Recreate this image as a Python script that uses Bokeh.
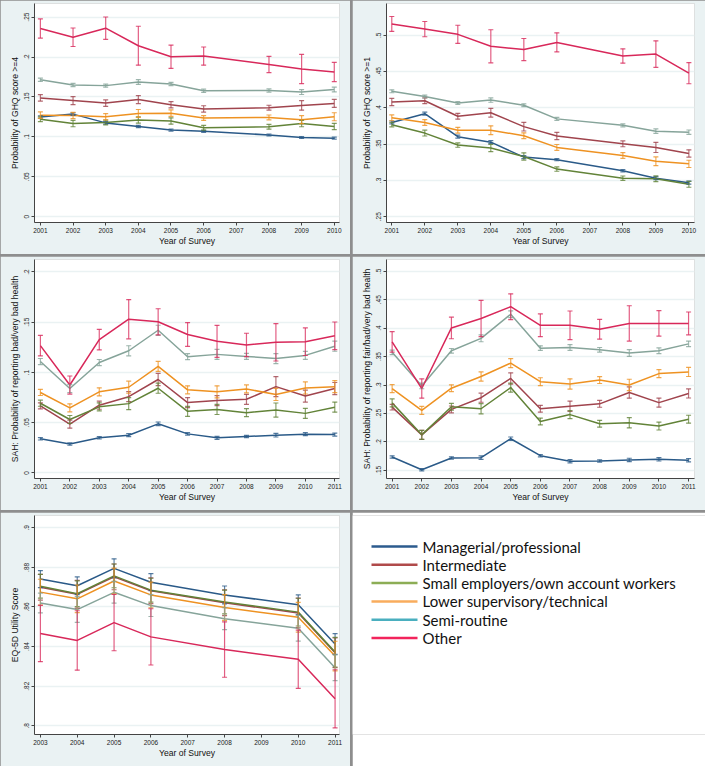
from bokeh.plotting import figure
from bokeh.models import Range1d, FixedTicker, Whisker, TeeHead, ColumnDataSource
from bokeh.core.properties import value
from bokeh.layouts import row, column
from bokeh.embed import file_html
from bokeh.resources import INLINE

# ---------------- data ----------------
GROUPS = ["Managerial/professional", "Intermediate", "Small employers/own account workers",
          "Lower supervisory/technical", "Semi-routine", "Other"]

# Panel 1: GHQ >= 4
ghq4_years = [2001, 2002, 2003, 2004, 2005, 2006, 2008, 2009, 2010]
ghq4_man = [0.1248, 0.1285, 0.1175, 0.1130, 0.1085, 0.1069, 0.1024, 0.0992, 0.0984]
ghq4_int = [0.1488, 0.1455, 0.1423, 0.1467, 0.1402, 0.1350, 0.1366, 0.1394, 0.1419]
ghq4_sml = [0.1220, 0.1167, 0.1179, 0.1211, 0.1199, 0.1114, 0.1126, 0.1167, 0.1130]
ghq4_low = [0.1272, 0.1268, 0.1252, 0.1293, 0.1297, 0.1236, 0.1244, 0.1215, 0.1252]
ghq4_semi = [0.1715, 0.1650, 0.1642, 0.1687, 0.1663, 0.1577, 0.1581, 0.1561, 0.1593]
ghq4_oth = [0.2358, 0.2248, 0.2362, 0.2142, 0.2004, 0.2012, 0.1907, 0.1850, 0.1813]
ghq4_man_ci = [0.0015, 0.0015, 0.0015, 0.0015, 0.0012, 0.0012, 0.0012, 0.0012, 0.0012]
ghq4_int_ci = [0.004, 0.005, 0.004, 0.005, 0.004, 0.004, 0.003, 0.006, 0.005]
ghq4_sml_ci = [0.003, 0.004, 0.003, 0.004, 0.004, 0.003, 0.003, 0.004, 0.004]
ghq4_low_ci = [0.004, 0.004, 0.004, 0.005, 0.004, 0.003, 0.003, 0.005, 0.005]
ghq4_semi_ci = [0.002, 0.002, 0.002, 0.003, 0.002, 0.002, 0.002, 0.003, 0.003]
ghq4_oth_ci = [0.012, 0.0116, 0.014, 0.0244, 0.0146, 0.0114, 0.0102, 0.0183, 0.012]
ghq4_yticks = [0, 0.05, 0.1, 0.15, 0.2, 0.25]
ghq4_ylabels = ["0", ".05", ".1", ".15", ".2", ".25"]

# Panel 2: GHQ >= 1
ghq1_years = [2001, 2002, 2003, 2004, 2005, 2006, 2008, 2009, 2010]
ghq1_man = [0.3799, 0.3920, 0.3603, 0.3527, 0.3321, 0.3286, 0.3134, 0.3031, 0.2969]
ghq1_int = [0.4080, 0.4098, 0.3884, 0.3933, 0.3741, 0.3612, 0.3504, 0.3455, 0.3371]
ghq1_sml = [0.3768, 0.3652, 0.3487, 0.3446, 0.3330, 0.3156, 0.3031, 0.3022, 0.2946]
ghq1_low = [0.3862, 0.3799, 0.3692, 0.3692, 0.3616, 0.3455, 0.3344, 0.3263, 0.3228]
ghq1_semi = [0.4228, 0.4156, 0.4067, 0.4107, 0.4036, 0.3848, 0.3759, 0.3679, 0.3665]
ghq1_oth = [0.5156, 0.5085, 0.5013, 0.4848, 0.4804, 0.4902, 0.4714, 0.4741, 0.4478]
ghq1_man_ci = [0.002, 0.002, 0.002, 0.002, 0.002, 0.0015, 0.0015, 0.002, 0.002]
ghq1_int_ci = [0.005, 0.004, 0.004, 0.006, 0.006, 0.005, 0.004, 0.007, 0.005]
ghq1_sml_ci = [0.003, 0.004, 0.003, 0.005, 0.005, 0.003, 0.003, 0.004, 0.004]
ghq1_low_ci = [0.004, 0.004, 0.004, 0.006, 0.004, 0.004, 0.004, 0.006, 0.005]
ghq1_semi_ci = [0.002, 0.002, 0.002, 0.003, 0.002, 0.002, 0.002, 0.003, 0.003]
ghq1_oth_ci = [0.0103, 0.0105, 0.0125, 0.0228, 0.0152, 0.0132, 0.0099, 0.0183, 0.0146]
ghq1_yticks = [0.25, 0.3, 0.35, 0.4, 0.45, 0.5]
ghq1_ylabels = [".25", ".3", ".35", ".4", ".45", ".5"]

# Panel 3: SAH bad / very bad
sahb_years = [2001, 2002, 2003, 2004, 2005, 2006, 2007, 2008, 2009, 2010, 2011]
sahb_man = [0.0340, 0.0288, 0.0350, 0.0376, 0.0489, 0.0389, 0.0350, 0.0363, 0.0376, 0.0386, 0.0382]
sahb_int = [0.0668, 0.0486, 0.0674, 0.0759, 0.0930, 0.0700, 0.0720, 0.0733, 0.0859, 0.0765, 0.0840]
sahb_sml = [0.0694, 0.0532, 0.0658, 0.0690, 0.0843, 0.0613, 0.0632, 0.0600, 0.0626, 0.0593, 0.0655]
sahb_low = [0.0801, 0.0648, 0.0807, 0.0853, 0.1060, 0.0827, 0.0807, 0.0836, 0.0781, 0.0846, 0.0859]
sahb_semi = [0.1109, 0.0840, 0.1099, 0.1216, 0.1420, 0.1157, 0.1180, 0.1160, 0.1138, 0.1170, 0.1261]
sahb_oth = [0.1267, 0.0875, 0.1326, 0.1530, 0.1504, 0.1378, 0.1310, 0.1274, 0.1300, 0.1306, 0.1365]
sahb_man_ci = [0.0012, 0.0012, 0.0012, 0.0015, 0.0018, 0.0012, 0.0015, 0.0012, 0.0018, 0.0015, 0.0015]
sahb_int_ci = [0.003, 0.004, 0.004, 0.005, 0.006, 0.005, 0.005, 0.005, 0.010, 0.006, 0.006]
sahb_sml_ci = [0.003, 0.004, 0.004, 0.006, 0.005, 0.005, 0.005, 0.004, 0.007, 0.005, 0.005]
sahb_low_ci = [0.003, 0.004, 0.004, 0.006, 0.005, 0.004, 0.006, 0.004, 0.006, 0.006, 0.006]
sahb_semi_ci = [0.003, 0.004, 0.003, 0.005, 0.005, 0.003, 0.005, 0.003, 0.005, 0.004, 0.005]
sahb_oth_ci = [0.0102, 0.009, 0.0102, 0.0195, 0.013, 0.0118, 0.0159, 0.0116, 0.0186, 0.0137, 0.0137]
sahb_yticks = [0, 0.05, 0.1, 0.15, 0.2]
sahb_ylabels = ["0", ".05", ".1", ".15", ".2"]

# Panel 4: SAH fair / bad / very bad
sahf_years = [2001, 2002, 2003, 2004, 2005, 2006, 2007, 2008, 2009, 2010, 2011]
sahf_man = [0.1735, 0.1511, 0.1718, 0.1723, 0.2056, 0.1758, 0.1660, 0.1666, 0.1683, 0.1695, 0.1678]
sahf_int = [0.2611, 0.2124, 0.2571, 0.2777, 0.3115, 0.2583, 0.2628, 0.2669, 0.2869, 0.2691, 0.2852]
sahf_sml = [0.2686, 0.2124, 0.2617, 0.2583, 0.2955, 0.2359, 0.2480, 0.2319, 0.2336, 0.2279, 0.2399]
sahf_low = [0.2938, 0.2554, 0.2944, 0.3150, 0.3385, 0.3058, 0.3018, 0.3087, 0.3001, 0.3201, 0.3230]
sahf_semi = [0.3574, 0.2984, 0.3602, 0.3820, 0.4244, 0.3648, 0.3660, 0.3619, 0.3562, 0.3602, 0.3723]
sahf_oth = [0.3757, 0.2938, 0.4003, 0.4169, 0.4376, 0.4049, 0.4049, 0.3980, 0.4083, 0.4083, 0.4083]
sahf_man_ci = [0.002, 0.002, 0.002, 0.003, 0.003, 0.002, 0.003, 0.002, 0.003, 0.003, 0.003]
sahf_int_ci = [0.005, 0.008, 0.006, 0.008, 0.010, 0.006, 0.009, 0.006, 0.010, 0.008, 0.008]
sahf_sml_ci = [0.007, 0.008, 0.006, 0.009, 0.008, 0.006, 0.007, 0.006, 0.009, 0.007, 0.007]
sahf_low_ci = [0.007, 0.007, 0.006, 0.008, 0.008, 0.007, 0.009, 0.006, 0.010, 0.007, 0.008]
sahf_semi_ci = [0.004, 0.005, 0.004, 0.006, 0.006, 0.004, 0.005, 0.004, 0.006, 0.005, 0.005]
sahf_oth_ci = [0.018, 0.017, 0.019, 0.032, 0.0227, 0.020, 0.0252, 0.0175, 0.031, 0.0223, 0.020]
sahf_yticks = [0.15, 0.2, 0.25, 0.3, 0.35, 0.4, 0.45, 0.5]
sahf_ylabels = [".15", ".2", ".25", ".3", ".35", ".4", ".45", ".5"]

# Panel 5: EQ-5D utility score
eq_years = [2003, 2004, 2005, 2006, 2008, 2010, 2011]
eq_man = [0.8741, 0.8707, 0.8795, 0.8725, 0.8661, 0.8611, 0.8413]
eq_int = [0.8700, 0.8664, 0.8752, 0.8682, 0.8621, 0.8570, 0.8369]
eq_sml = [0.8705, 0.8667, 0.8757, 0.8685, 0.8625, 0.8574, 0.8372]
eq_low = [0.8675, 0.8641, 0.8731, 0.8661, 0.8597, 0.8548, 0.8352]
eq_semi = [0.8620, 0.8587, 0.8674, 0.8607, 0.8541, 0.8493, 0.8293]
eq_oth = [0.8466, 0.8431, 0.8521, 0.8449, 0.8385, 0.8336, 0.8136]
eq_man_ci = [0.0043, 0.0045, 0.0048, 0.0043, 0.0045, 0.0050, 0.0052]
eq_int_ci = [0.0065, 0.0070, 0.0065, 0.0065, 0.0065, 0.0075, 0.0075]
eq_sml_ci = [0.0060, 0.0065, 0.0060, 0.0060, 0.0060, 0.0070, 0.0075]
eq_low_ci = [0.0065, 0.0070, 0.0065, 0.0065, 0.0065, 0.0075, 0.0075]
eq_semi_ci = [0.0050, 0.0065, 0.0055, 0.0055, 0.0055, 0.0065, 0.0065]
eq_oth_ci = [0.0142, 0.0150, 0.0142, 0.0142, 0.0140, 0.0147, 0.0147]
eq_yticks = [0.8, 0.82, 0.84, 0.86, 0.88, 0.9]
eq_ylabels = [".8", ".82", ".84", ".86", ".88", ".9"]

# ---------------- styles ----------------
LINE_COLORS = ["#2a5a88", "#a0444d", "#628338", "#ee9222", "#86a49a", "#d8285a"]
LEGEND_COLORS = ["#2c5b8e", "#b04a4a", "#8cad55", "#f9ac5d", "#4aafbf", "#f2245c"]
BG = "#eaf2f3"
SEP = "#8e8e8e"
AX = "#444444"
FONT = "Liberation Sans"


def panel(width, height, years, xticks, xr, yr, yticks, ylabels, ylabel, means, cis):
    p = figure(width=width, height=height, output_backend="svg", toolbar_location=None,
               x_range=Range1d(*xr), y_range=Range1d(*yr),
               min_border_left=34, min_border_right=11, min_border_top=3, min_border_bottom=32)
    p.background_fill_color = "white"
    p.border_fill_color = BG
    p.outline_line_color = None
    p.xgrid.grid_line_color = None
    p.ygrid.grid_line_color = BG
    p.ygrid.grid_line_width = 1.5
    p.xaxis.ticker = FixedTicker(ticks=xticks)
    p.yaxis.ticker = FixedTicker(ticks=yticks)
    p.yaxis.major_label_overrides = dict(zip(yticks, ylabels))
    p.yaxis.major_label_orientation = "vertical"
    for ax in (p.xaxis, p.yaxis):
        ax.axis_line_color = AX
        ax.major_tick_line_color = AX
        ax.major_tick_out = 3
        ax.major_tick_in = 0
        ax.minor_tick_line_color = None
        ax.major_label_text_font = FONT
        ax.major_label_text_font_size = "6.5px"
        ax.major_label_text_color = "#222222"
        ax.major_label_standoff = 2
        ax.axis_label_text_font = FONT
        ax.axis_label_text_font_size = "8.6px"
        ax.axis_label_text_font_style = "normal"
        ax.axis_label_text_color = "#111111"
    p.xaxis.axis_label = "Year of Survey"
    p.xaxis.axis_label_standoff = 0
    p.yaxis.axis_label = ylabel
    p.yaxis.axis_label_standoff = 2
    for m, ci, c in zip(means, cis, LINE_COLORS):
        src = ColumnDataSource(dict(x=years, y=m,
                                    lo=[a - b for a, b in zip(m, ci)],
                                    hi=[a + b for a, b in zip(m, ci)]))
        p.line("x", "y", source=src, line_color=c, line_width=1.5)
        w = Whisker(source=src, base="x", lower="lo", upper="hi",
                    line_color=c, line_alpha=0.75, line_width=1.2, level="glyph",
                    upper_head=TeeHead(size=5, line_color=c, line_alpha=0.8, line_width=1.2),
                    lower_head=TeeHead(size=5, line_color=c, line_alpha=0.8, line_width=1.2))
        p.add_layout(w)
    return p


W1, W2, H = 350, 353, 254

p1 = panel(W1, H, ghq4_years, list(range(2001, 2011)), (2000.82, 2010.16), (-0.0073, 0.2671),
           ghq4_yticks, ghq4_ylabels, "Probability of GHQ score >=4",
           [ghq4_man, ghq4_int, ghq4_sml, ghq4_low, ghq4_semi, ghq4_oth],
           [ghq4_man_ci, ghq4_int_ci, ghq4_sml_ci, ghq4_low_ci, ghq4_semi_ci, ghq4_oth_ci])
p2 = panel(W2, H, ghq1_years, list(range(2001, 2011)), (2000.84, 2010.17), (0.2420, 0.5438),
           ghq1_yticks, ghq1_ylabels, "Probability of GHQ score >=1",
           [ghq1_man, ghq1_int, ghq1_sml, ghq1_low, ghq1_semi, ghq1_oth],
           [ghq1_man_ci, ghq1_int_ci, ghq1_sml_ci, ghq1_low_ci, ghq1_semi_ci, ghq1_oth_ci])
p3 = panel(W1, H, sahb_years, list(range(2001, 2012)), (2000.80, 2011.16), (-0.0055, 0.2124),
           sahb_yticks, sahb_ylabels, "SAH: Probability of reporting bad/very bad health",
           [sahb_man, sahb_int, sahb_sml, sahb_low, sahb_semi, sahb_oth],
           [sahb_man_ci, sahb_int_ci, sahb_sml_ci, sahb_low_ci, sahb_semi_ci, sahb_oth_ci])
p4 = panel(W2, H, sahf_years, list(range(2001, 2012)), (2000.81, 2011.2), (0.1357, 0.5206),
           sahf_yticks, sahf_ylabels, "SAH: Probability of reporting fair/bad/very bad health",
           [sahf_man, sahf_int, sahf_sml, sahf_low, sahf_semi, sahf_oth],
           [sahf_man_ci, sahf_int_ci, sahf_sml_ci, sahf_low_ci, sahf_semi_ci, sahf_oth_ci])
p5 = panel(W1, H, eq_years, list(range(2003, 2012)), (2002.84, 2011.12), (0.7956, 0.9062),
           eq_yticks, eq_ylabels, "EQ-5D Utility Score",
           [eq_man, eq_int, eq_sml, eq_low, eq_semi, eq_oth],
           [eq_man_ci, eq_int_ci, eq_sml_ci, eq_low_ci, eq_semi_ci, eq_oth_ci])

# Legend panel (drawn in screen-pixel coordinates, top-left origin)
p6 = figure(width=W2, height=H, output_backend="svg", toolbar_location=None,
            x_range=Range1d(0, W2), y_range=Range1d(H, 0),
            x_axis_location=None, y_axis_location=None, min_border=0)
p6.grid.visible = False
p6.outline_line_color = None
p6.background_fill_color = "white"
p6.border_fill_color = "white"
LEG_TOP, LEG_PITCH, LEG_X0, LEG_X1, LEG_TX = 36, 21.2, 19, 65, 70
leg_y = [LEG_TOP + i * LEG_PITCH for i in range(len(GROUPS))]
leg_src = ColumnDataSource(dict(
    x0=[LEG_X0] * len(GROUPS), x1=[LEG_X1] * len(GROUPS), tx=[LEG_TX] * len(GROUPS),
    y=leg_y, name=GROUPS, color=LEGEND_COLORS))
p6.segment(x0="x0", y0="y", x1="x1", y1="y", source=leg_src, line_color="color", line_width=2.5)
p6.text(x="tx", y="y", text="name", source=leg_src, text_font=value("Lato"),
        text_font_size="15px", text_color="#111111", text_baseline="middle", text_align="left")

lay = column(row(p1, p2, spacing=2), row(p3, p4, spacing=2), row(p5, p6, spacing=2),
             spacing=2, styles={"background-color": SEP})

open("out.html", "w").write(file_html(lay, INLINE, title="Health by social class"))
